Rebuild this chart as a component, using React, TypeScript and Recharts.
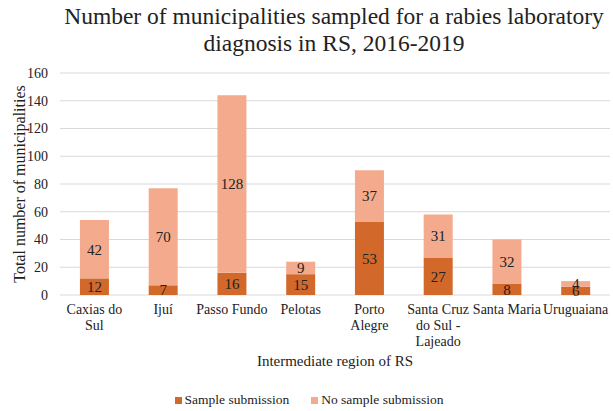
import React from "react";
import { BarChart, Bar, XAxis, YAxis, CartesianGrid, Legend, LabelList } from "recharts";

const regions = [
  "Caxias do Sul",
  "Ijuí",
  "Passo Fundo",
  "Pelotas",
  "Porto Alegre",
  "Santa Cruz do Sul - Lajeado",
  "Santa Maria",
  "Uruguaiana",
];
// how each region name wraps under the axis
const regionLines = [
  ["Caxias do", "Sul"],
  ["Ijuí"],
  ["Passo Fundo"],
  ["Pelotas"],
  ["Porto", "Alegre"],
  ["Santa Cruz", "do Sul -", "Lajeado"],
  ["Santa Maria"],
  ["Uruguaiana"],
];
const sampled = [12, 7, 16, 15, 53, 27, 8, 6];
const notSampled = [42, 70, 128, 9, 37, 31, 32, 4];
const yTicks = [0, 20, 40, 60, 80, 100, 120, 140, 160];

const DARK = "#D2692B";
const LIGHT = "#F3AA8D";
const FONT = "'Liberation Serif', 'Times New Roman', serif";

const data = regions.map((name, i) => ({
  name,
  sample: sampled[i],
  noSample: notSampled[i],
}));

const RegionTick = ({ x, y, index }: any) => {
  const lines = regionLines[index] || [];
  return (
    <text x={x} y={y} textAnchor="middle" fontFamily={FONT} fontSize={14} fill="#222">
      {lines.map((l: string, i: number) => (
        <tspan key={i} x={x} dy={i === 0 ? 11 : 16}>
          {l}
        </tspan>
      ))}
    </text>
  );
};

const LegendBox = () => (
  <div style={{ display: "flex", justifyContent: "center", gap: 22, fontFamily: FONT, fontSize: 13.5, color: "#222", paddingLeft: 8 }}>
    <span style={{ display: "flex", alignItems: "center" }}>
      <span style={{ width: 7, height: 7, background: DARK, marginRight: 3 }} />
      Sample submission
    </span>
    <span style={{ display: "flex", alignItems: "center" }}>
      <span style={{ width: 7, height: 7, background: LIGHT, marginRight: 3 }} />
      No sample submission
    </span>
  </div>
);

export default function App() {
  return (
    <div style={{ position: "absolute", left: 0, top: 0, width: 613, height: 411, background: "#fff", fontFamily: FONT }}>
      <div
        style={{
          position: "absolute",
          left: 58,
          width: 552,
          top: 3,
          textAlign: "center",
          fontFamily: FONT,
          fontSize: 23.5,
          lineHeight: "27px",
          color: "#222",
        }}
      >
        Number of municipalities sampled for a rabies laboratory
        <br />
        diagnosis in RS, 2016-2019
      </div>
      <BarChart
        width={613}
        height={411}
        data={data}
        style={{ fontFamily: FONT }}
        margin={{ top: 73, right: 3, left: 0, bottom: 6 }}
        barCategoryGap="29%"
      >
        <CartesianGrid vertical={false} stroke="#d9d9d9" />
        <XAxis
          dataKey="name"
          interval={0}
          axisLine={false}
          tickLine={false}
          tick={<RegionTick />}
          height={94}
          label={{
            value: "Intermediate region of RS",
            position: "insideBottom",
            offset: 23,
            style: { fontFamily: FONT, fontSize: 15, fill: "#222" },
          }}
        />
        <YAxis
          domain={[0, 160]}
          ticks={yTicks}
          width={60}
          axisLine={false}
          tickLine={false}
          tickSize={0}
          tickMargin={12}
          tick={{ fontFamily: FONT, fontSize: 14, fill: "#222" }}
          label={{
            value: "Total number of municipalities",
            angle: -90,
            position: "insideLeft",
            offset: 19,
            style: { textAnchor: "middle", fontFamily: FONT, fontSize: 16, fill: "#222" },
          }}
        />
        <Legend verticalAlign="bottom" content={<LegendBox />} wrapperStyle={{ bottom: 3 }} />
        <Bar dataKey="sample" stackId="a" fill={DARK} isAnimationActive={false}>
          <LabelList dataKey="sample" position="center" fontFamily={FONT} fontSize={15} fill="#222" />
        </Bar>
        <Bar dataKey="noSample" stackId="a" fill={LIGHT} isAnimationActive={false}>
          <LabelList dataKey="noSample" position="center" fontFamily={FONT} fontSize={15} fill="#222" />
        </Bar>
      </BarChart>
    </div>
  );
}
